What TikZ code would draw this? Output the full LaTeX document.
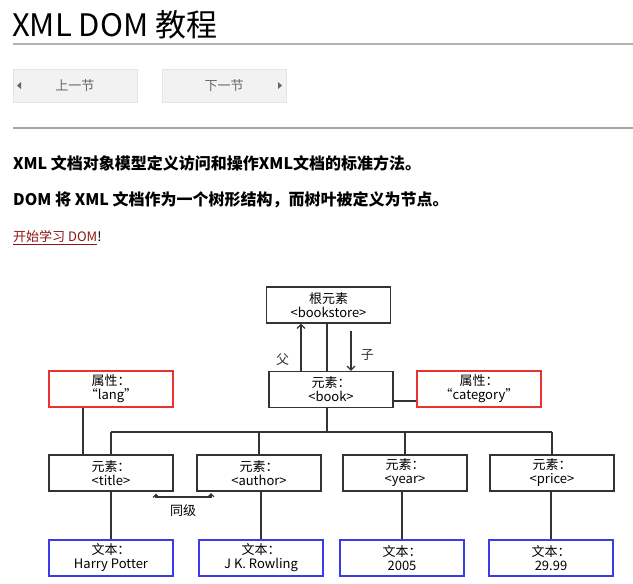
\documentclass[tikz,border=0pt]{standalone}
\usepackage{fontspec}
\setmainfont{Noto Sans CJK SC}
\usetikzlibrary{arrows.meta}
\usetikzlibrary{positioning}
\definecolor{boxred}{RGB}{235,50,50}
\definecolor{boxblue}{RGB}{60,60,230}
\definecolor{linkred}{RGB}{140,20,20}
\definecolor{btngray}{RGB}{242,242,242}
\tikzset{
  box/.style={draw, line width=1.2pt, minimum width=124pt, minimum height=36pt, inner sep=0pt, align=center, font=\fontsize{13}{14}\selectfont},
  elem/.style={box, draw=black!80},
  attr/.style={box, draw=boxred},
  txt/.style={box, draw=boxblue},
  wire/.style={line width=1.2pt, black!80},
}
\begin{document}
\begin{tikzpicture}[x=1pt,y=-1pt]
                \useasboundingbox (0,0) rectangle (633,584);
                % page header
                \node[anchor=west, inner sep=0pt, font=\fontsize{31}{32}\selectfont] (title) at (12,25) {XML DOM 教程};
                \draw[black!30, line width=1.2pt] (13,44) -- (633,44);
                \node[fill=btngray, draw=black!10, minimum width=124pt, minimum height=33pt, font=\fontsize{13}{14}\selectfont, text=black!60] (prev) at (75,85.5) {上一节};
                \node[fill=btngray, draw=black!10, minimum width=124pt, minimum height=33pt, font=\fontsize{13}{14}\selectfont, text=black!60] (next) at (224,85.5) {下一节};
                \fill[black!60] (17,85.5) -- (21,82) -- (21,89) -- cycle;
                \fill[black!60] (282,85.5) -- (278,82) -- (278,89) -- cycle;
                \draw[black!35, line width=1.5pt] (13,128) -- (633,128);
                \node[anchor=west, inner sep=0pt, font=\bfseries\fontsize{16}{17}\selectfont] (line1) at (13,163) {XML 文档对象模型定义访问和操作XML文档的标准方法。};
                \node[anchor=west, inner sep=0pt, font=\bfseries\fontsize{16}{17}\selectfont] (line2) at (13,200) {DOM 将 XML 文档作为一个树形结构，而树叶被定义为节点。};
                \node[anchor=west, inner sep=0pt, font=\fontsize{13}{14}\selectfont] (link) at (13,238) {\textcolor{linkred}{\underline{开始学习 DOM}}!};
                % tree
                \node[elem] (root) at (328.5,305) {根元素\\<bookstore>};
                \node[elem] (book) at (331,389.5) {元素：\\<book>};
                \node[attr] (lang) at (111,389) {属性：\\“lang”};
                \node[attr] (cat) at (479,389) {属性：\\“category”};
                \node[elem] (etitle) at (111,473) {元素：\\<title>};
                \node[elem] (eauthor) at (259,473) {元素：\\<author>};
                \node[elem] (eyear) at (405,473) {元素：\\<year>};
                \node[elem] (eprice) at (552,473) {元素：\\<price>};
                \node[txt] (ttitle) at (111,558) {文本：\\Harry Potter};
                \node[txt] (tauthor) at (261,558) {文本：\\J K. Rowling};
                \node[txt] (tyear) at (402,558) {文本：\\2005};
                \node[txt] (tprice) at (551,558) {文本：\\29.99};
                \coordinate (bus) at (327,432);
                \draw[wire] (root.south -| bus) -- (book.north -| bus);
                \draw[wire] (book.south -| bus) -- (bus);
                \draw[wire] (bus -| etitle) -- (bus -| eprice);
                \foreach \e in {etitle,eauthor,eyear,eprice}
                  \draw[wire] (bus -| \e) -- (\e.north);
                \draw[wire] (lang.south -| 83,0) -- (etitle.north -| 83,0);
                \draw[wire] (book.east |- 0,401) -- (cat.west |- 0,401);
                \draw[wire] (etitle) -- (ttitle);
                \draw[wire] (eauthor.south -| tauthor) -- (tauthor);
                \draw[wire] (eyear.south -| tyear) -- (tyear);
                \draw[wire] (eprice.south -| tprice) -- (tprice);
                % parent / child arrows
                \draw[wire, -{Straight Barb[length=4pt]}] (book.north -| 301,0) -- (root.south -| 301,0) node[midway, left=8pt, yshift=-12pt, font=\fontsize{13}{14}\selectfont] {父};
                \draw[wire, -{Straight Barb[length=4pt]}] (root.south -| 351,0) ++(0,7) coordinate (cs) -- (book.north -| 351,0) node[pos=0.6, right=6pt, font=\fontsize{13}{14}\selectfont] {子};
                % sibling arrow
                \coordinate (sibl) at (156,497);
                \coordinate (sibr) at (211,497);
                \draw[wire, {Straight Barb[length=3pt]}-{Straight Barb[length=3pt]}] (etitle.south -| sibl) ++(0,2) -- (sibl) -- (sibr) -- ++(0,-4);
                \node[font=\fontsize{13}{14}\selectfont] (siblabel) at (183,511) {同级};
\end{tikzpicture}
\end{document}
